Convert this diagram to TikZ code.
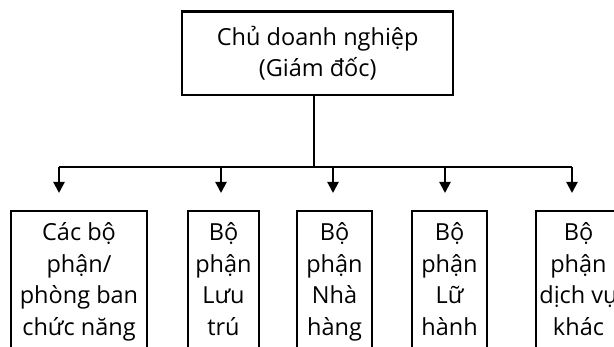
\documentclass[tikz,border=0pt]{standalone}
\usepackage{fontspec}
\setmainfont{Open Sans}
\usetikzlibrary{arrows.meta}
\tikzset{
	box/.style={draw, line width=2.2pt, align=center, inner xsep=2pt,
		font=\fontsize{23.5}{31.5}\selectfont},
	dept/.style={box, anchor=north, inner ysep=11.5pt, text depth=12pt},
	link/.style={line width=2.2pt},
	arr/.style={link, -{Triangle[width=11pt,length=11pt]}, shorten >=17pt}
}

\begin{document}
\begin{tikzpicture}[x=1pt,y=-1pt]
	\useasboundingbox (0,0) rectangle (614,347);
	\clip (0,0) rectangle (614,347);
	
	% Owner box
	\node[box, minimum width=271pt, minimum height=83.5pt] (owner) at (317.7,53.3)
		{Chủ doanh nghiệp\\(Giám đốc)};
	
	% Department boxes
	\node[dept, minimum width=136pt] (d1) at (79,210) {Các bộ\\phận/\\phòng ban\\chức năng};
	\node[dept, minimum width=71pt] (d2) at (223.5,210) {Bộ\\phận\\Lưu\\trú};
	\node[dept, minimum width=75pt] (d3) at (334.5,210) {Bộ\\phận\\Nhà\\hàng};
	\node[dept, minimum width=75pt] (d4) at (449.5,210) {Bộ\\phận\\Lữ\\hành};
	\node[dept, minimum width=85pt] (d5) at (578.5,210) {Bộ\\phận\\dịch vụ\\khác};
	
	% Bus line
	\coordinate (hub) at (314,167);
	\draw[link] ([xshift=-3.7pt]owner.south) -- (hub);
	\foreach \n/\x in {1/59,2/221,3/333,4/445,5/572} {
		\coordinate (c\n) at (\x,167);
	}
	\draw[link] (c1) -- (c5);
	
	% Arrows down to the departments
	\foreach \n in {1,...,5} {
		\draw[arr] (c\n) -- (c\n |- d\n.north);
	}
	
\end{tikzpicture}
\end{document}
